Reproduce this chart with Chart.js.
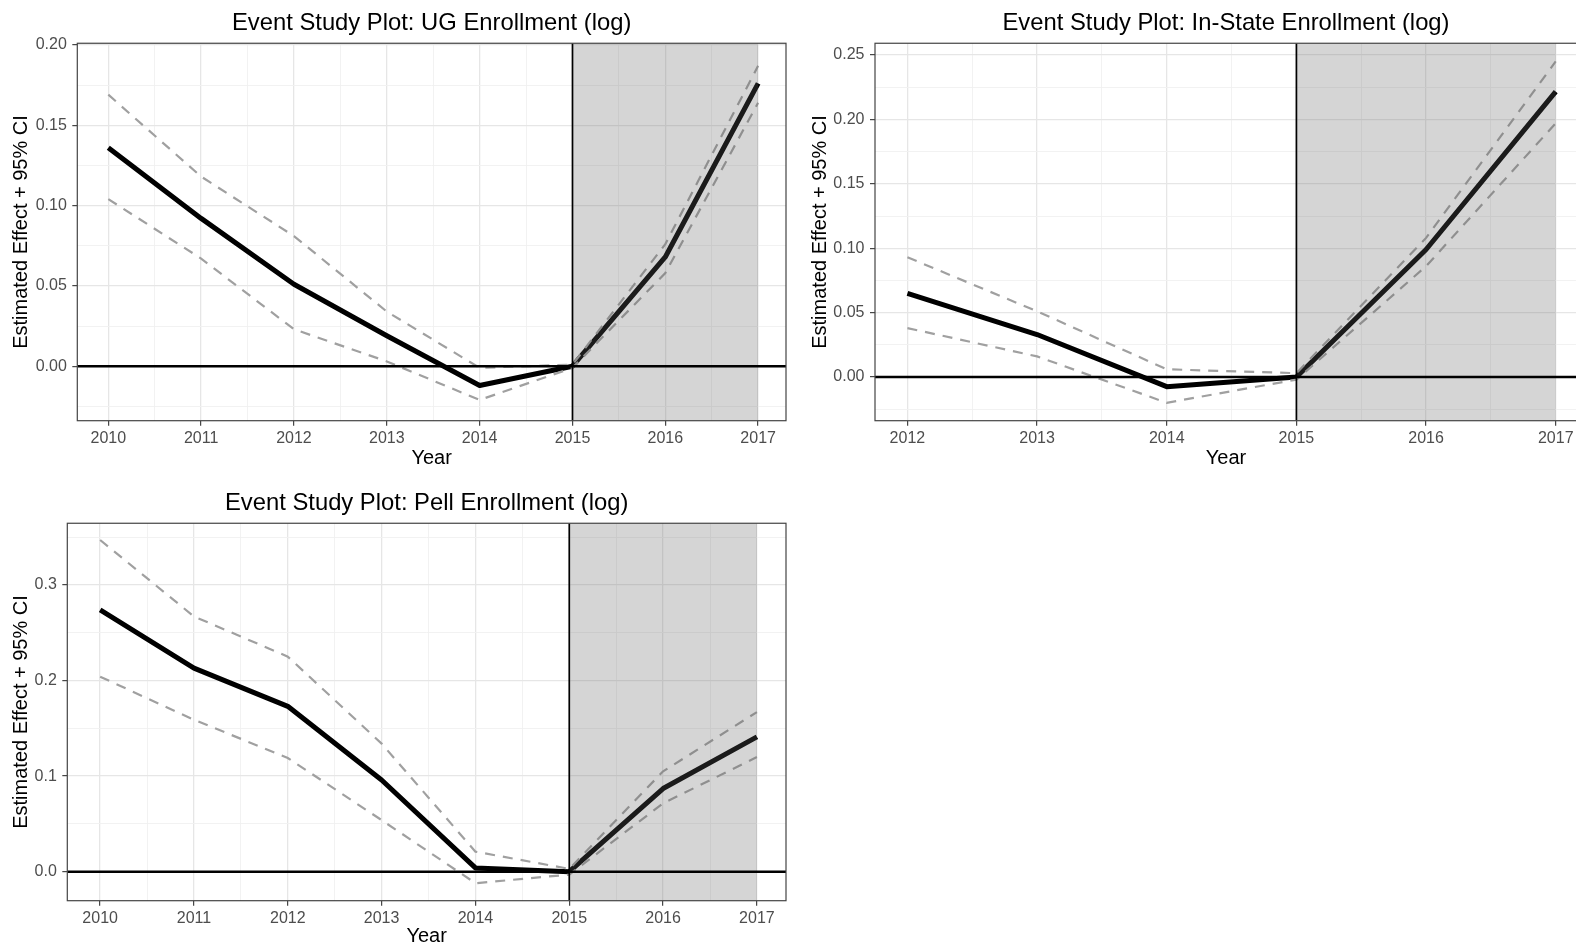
<!DOCTYPE html>
<html lang="en">
<head>
  <meta charset="UTF-8">
  <title>Event Study Plots</title>
  <script src="https://cdn.jsdelivr.net/npm/chart.js"></script>
  <style>
    body { margin: 0; width: 1576px; height: 951px; overflow: hidden; background: #fff; position: relative; }
    canvas { position: absolute; }
  </style>
</head>
<body>
  <canvas id="ugChart" width="790" height="474" style="left:0;top:0"></canvas>
  <canvas id="inStateChart" width="781" height="474" style="left:800px;top:0"></canvas>
  <canvas id="pellChart" width="790" height="472" style="left:0;top:480px"></canvas>

  <script>
    // UG enrollment (log)
    const ugYears = [2010, 2011, 2012, 2013, 2014, 2015, 2016, 2017];
    const ugEstimate = [0.136, 0.092, 0.051, 0.019, -0.012, 0.000, 0.068, 0.176];
    const ugUpper = [0.169, 0.118, 0.081, 0.034, -0.001, 0.001, 0.076, 0.187];
    const ugLower = [0.104, 0.067, 0.023, 0.003, -0.021, -0.001, 0.058, 0.164];
    const ugYTicks = [0, 0.05, 0.10, 0.15, 0.20];
    const ugYMinor = [-0.025, 0.025, 0.075, 0.125, 0.175];

    // In-state enrollment (log)
    const inStateYears = [2012, 2013, 2014, 2015, 2016, 2017];
    const inStateEstimate = [0.065, 0.033, -0.0075, 0.000, 0.099, 0.2215];
    const inStateUpper = [0.093, 0.051, 0.006, 0.003, 0.108, 0.245];
    const inStateLower = [0.038, 0.016, -0.020, -0.002, 0.086, 0.197];
    const inStateYTicks = [0, 0.05, 0.10, 0.15, 0.20, 0.25];
    const inStateYMinor = [-0.025, 0.025, 0.075, 0.125, 0.175, 0.225];

    // Pell enrollment (log)
    const pellYears = [2010, 2011, 2012, 2013, 2014, 2015, 2016, 2017];
    const pellEstimate = [0.274, 0.213, 0.173, 0.096, 0.004, 0.000, 0.087, 0.141];
    const pellUpper = [0.347, 0.267, 0.225, 0.134, 0.021, 0.003, 0.105, 0.167];
    const pellLower = [0.204, 0.159, 0.119, 0.054, -0.012, -0.003, 0.0715, 0.120];
    const pellYTicks = [0, 0.1, 0.2, 0.3];
    const pellYMinor = [0.05, 0.15, 0.25, 0.35];

    const treatYear = 2015;
    const shadeEnd = 2017;
    const zeroLine = 0;

    Chart.defaults.font.family = "'Liberation Sans', Arial, sans-serif";

    // shaded post period, reference lines and panel border (ggplot theme_bw look)
    const panelDecor = {
      id: 'panelDecor',
      afterDatasetsDraw(chart, args, o) {
        const { ctx, chartArea: a, scales: { x, y } } = chart;
        ctx.save();
        ctx.beginPath();
        ctx.rect(a.left, a.top, a.width, a.height);
        ctx.clip();
        const x0 = x.getPixelForValue(o.shadeFrom);
        const x1 = x.getPixelForValue(o.shadeTo);
        ctx.fillStyle = 'rgba(100,100,100,0.27)';
        ctx.fillRect(x0, a.top, x1 - x0, a.height);
        ctx.strokeStyle = '#000';
        ctx.lineWidth = 2.4;
        const y0 = y.getPixelForValue(o.hline);
        ctx.beginPath(); ctx.moveTo(a.left, y0); ctx.lineTo(a.right, y0); ctx.stroke();
        ctx.lineWidth = 1.7;
        ctx.beginPath(); ctx.moveTo(x0, a.top); ctx.lineTo(x0, a.bottom); ctx.stroke();
        ctx.restore();
        ctx.save();
        ctx.strokeStyle = '#444';
        ctx.lineWidth = 1.2;
        ctx.strokeRect(a.left, a.top, a.width, a.height);
        ctx.restore();
      }
    };

    function toPoints(xs, ys) {
      return xs.map((v, i) => ({ x: v, y: ys[i] }));
    }

    function tickList(major, minor) {
      return major.map(v => ({ value: v, major: true }))
        .concat(minor.map(v => ({ value: v, major: false })))
        .sort((p, q) => p.value - q.value);
    }

    const gridOpts = {
      color: c => (c.tick && c.tick.major) ? '#e6e6e6' : '#f0f0f0',
      lineWidth: c => (c.tick && c.tick.major) ? 1.3 : 0.9,
      tickColor: c => (c.tick && c.tick.major) ? '#333' : 'rgba(0,0,0,0)',
      tickLength: 5,
      tickWidth: 1.1
    };

    function makeChart(id, cfg) {
      const xMajor = cfg.years;
      const xMinor = cfg.years.slice(0, -1).map(v => v + 0.5);
      return new Chart(document.getElementById(id), {
        type: 'line',
        data: {
          datasets: [
            { data: toPoints(cfg.years, cfg.upper), borderColor: '#a0a0a0', borderWidth: 2.2, borderDash: [10, 8], pointRadius: 0 },
            { data: toPoints(cfg.years, cfg.lower), borderColor: '#a0a0a0', borderWidth: 2.2, borderDash: [10, 8], pointRadius: 0 },
            { data: toPoints(cfg.years, cfg.estimate), borderColor: '#000', borderWidth: 5, borderJoinStyle: 'round', pointRadius: 0 }
          ]
        },
        options: {
          responsive: false,
          animation: false,
          layout: { autoPadding: false, padding: { left: cfg.padLeft, right: 4, top: 0, bottom: 0 } },
          plugins: {
            legend: { display: false },
            tooltip: { enabled: false },
            title: {
              display: true, text: cfg.title, fullSize: false, color: '#000',
              font: { size: 23.8, weight: 'normal' }, padding: { top: 9.2, bottom: 5.5 }
            },
            panelDecor: { shadeFrom: treatYear, shadeTo: shadeEnd, hline: zeroLine }
          },
          scales: {
            x: {
              type: 'linear', min: cfg.xMin, max: cfg.xMax, bounds: 'data',
              afterBuildTicks: axis => { axis.ticks = tickList(xMajor, xMinor); },
              afterFit: axis => { axis.height = cfg.xHeight; },
              ticks: {
                autoSkip: false, maxRotation: 0, padding: 3, color: '#4d4d4d', font: { size: 16 },
                callback: (v, i, t) => t[i].major ? String(v) : ''
              },
              grid: gridOpts,
              border: { display: false },
              title: { display: true, text: 'Year', color: '#000', font: { size: 20 }, padding: { top: 4, bottom: 4 } }
            },
            y: {
              type: 'linear', min: cfg.yMin, max: cfg.yMax, bounds: 'data',
              afterBuildTicks: axis => { axis.ticks = tickList(cfg.yTicks, cfg.yMinor); },
              afterFit: axis => { axis.width = cfg.yWidth; },
              ticks: {
                autoSkip: false, padding: 5.5, color: '#4d4d4d', font: { size: 16 },
                callback: (v, i, t) => t[i].major ? v.toFixed(cfg.digits) : ''
              },
              grid: gridOpts,
              border: { display: false },
              title: { display: true, text: 'Estimated Effect + 95% CI', color: '#000', font: { size: 20 }, padding: { top: 4, bottom: 4 } }
            }
          }
        },
        plugins: [panelDecor]
      });
    }

    makeChart('ugChart', {
      title: 'Event Study Plot: UG Enrollment (log)',
      years: ugYears, estimate: ugEstimate, upper: ugUpper, lower: ugLower,
      yTicks: ugYTicks, yMinor: ugYMinor, digits: 2,
      xMin: 2009.666, xMax: 2017.30, yMin: -0.0339, yMax: 0.201,
      padLeft: 5, yWidth: 72.3, xHeight: 53.3
    });

    makeChart('inStateChart', {
      title: 'Event Study Plot: In-State Enrollment (log)',
      years: inStateYears, estimate: inStateEstimate, upper: inStateUpper, lower: inStateLower,
      yTicks: inStateYTicks, yMinor: inStateYMinor, digits: 2,
      xMin: 2011.75, xMax: 2017.164, yMin: -0.0339, yMax: 0.2591,
      padLeft: 4, yWidth: 71, xHeight: 53.3
    });

    makeChart('pellChart', {
      title: 'Event Study Plot: Pell Enrollment (log)',
      years: pellYears, estimate: pellEstimate, upper: pellUpper, lower: pellLower,
      yTicks: pellYTicks, yMinor: pellYMinor, digits: 1,
      xMin: 2009.65, xMax: 2017.31, yMin: -0.0303, yMax: 0.3645,
      padLeft: 5, yWidth: 62.3, xHeight: 51.3
    });
  </script>
</body>
</html>
